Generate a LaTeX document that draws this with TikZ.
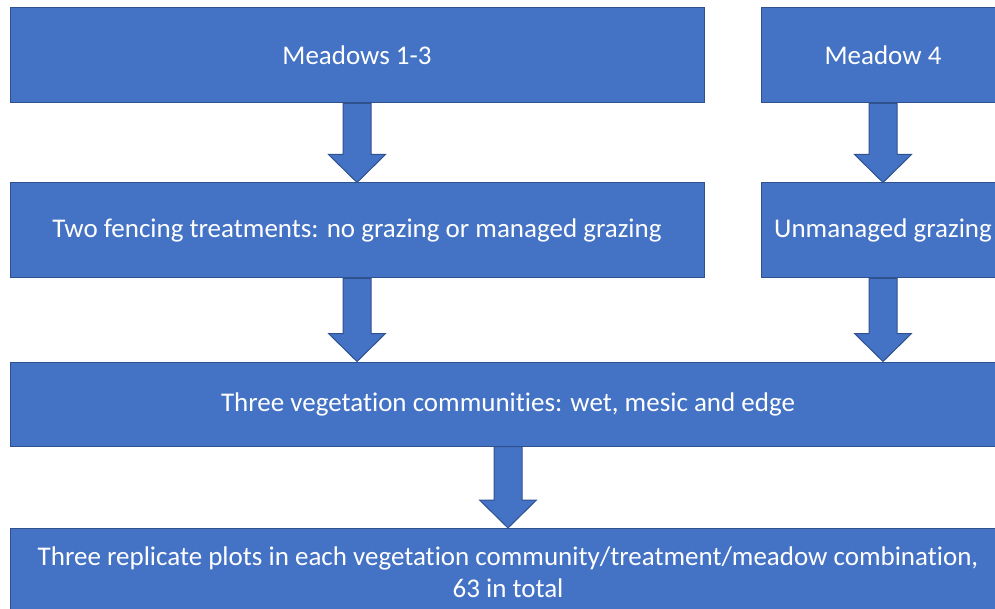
\documentclass[tikz,border=0pt]{standalone}
\usepackage{fontspec}
\setmainfont[Ligatures=NoCommon]{Carlito}
\usetikzlibrary{calc}
\definecolor{boxfill}{HTML}{4472C4}
\definecolor{boxline}{HTML}{2F528F}
\tikzset{
  box/.style={draw=boxline, fill=boxfill, line width=1pt, text=white, inner sep=0pt,
    align=center, font=\fontsize{27}{32}\selectfont},
  blockarrow/.style={draw=boxline, fill=boxfill, line width=1pt,
    to path={let \p1=(\tikztostart), \p2=(\tikztotarget) in
      (\x1-14pt,\y1) -- (\x1+14pt,\y1) -- (\x1+14pt,\y2+28pt) -- (\x1+28.5pt,\y2+28pt)
      -- (\x1,\y2) -- (\x1-28.5pt,\y2+28pt) -- (\x1-14pt,\y2+28pt) -- cycle}}
}

\begin{document}
\begin{tikzpicture}[x=1pt,y=-1pt]
        \useasboundingbox (0,0) rectangle (995,609);
        \clip (0,0) rectangle (995,609);
        % top row
        \node[box, minimum width=694pt, minimum height=95pt] (meadows) at (357,55.5) {Meadows 1-3};
        \node[box, minimum width=244pt, minimum height=95pt] (meadowfour) at (883,55.5) {Meadow 4};
        % treatments
        \node[box, minimum width=694pt, minimum height=95pt] (fencing) at (357,230.5) {Two fencing treatments: no grazing or managed grazing};
        \node[box, minimum width=244pt, minimum height=95pt] (unmanaged) at (883,230.5) {Unmanaged grazing};
        % communities and plots
        \node[box, minimum width=996pt, minimum height=84pt] (communities) at (508,404) {Three vegetation communities: wet, mesic and edge};
        \node[box, minimum width=996pt, minimum height=87pt] (plots) at (508,572) {Three replicate plots in each vegetation community/treatment/meadow combination,\\63 in total};
        \foreach \from/\to in {meadows/fencing, meadowfour/unmanaged, fencing/communities, unmanaged/communities, communities/plots}{
            \draw[blockarrow] (\from.south) to (\to.north);
        }
    \end{tikzpicture}
\end{document}
